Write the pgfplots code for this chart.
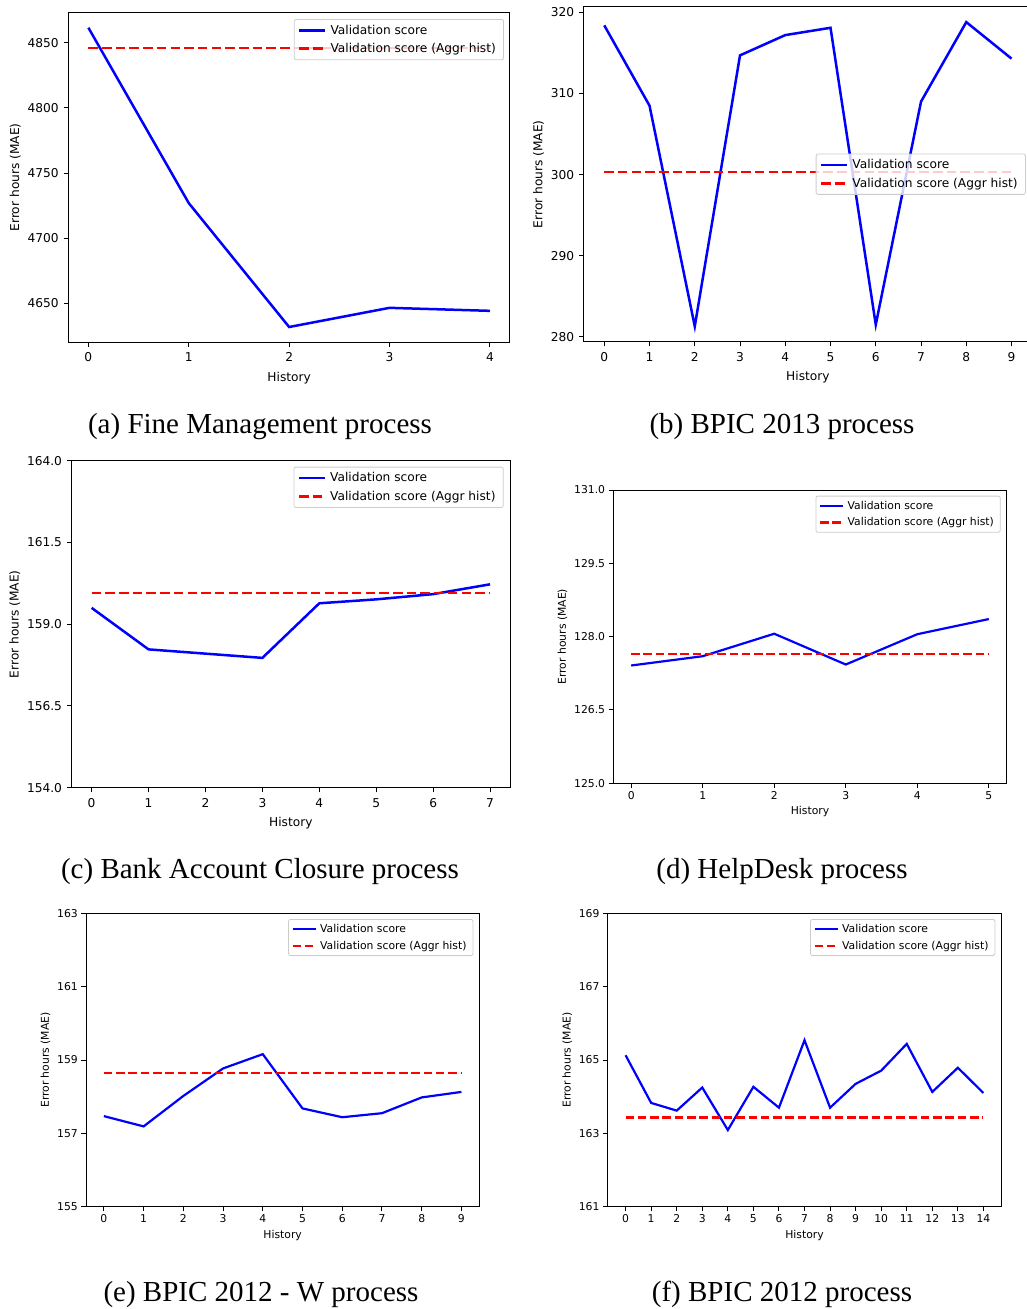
\documentclass[border=0pt]{standalone}
\usepackage{fontspec}
\setmainfont{DejaVu Sans}
\newfontfamily\capfont{Liberation Serif}
\usepackage{pgfplots}
\pgfplotsset{compat=1.18}
\pgfplotsset{
 common/.style={
  scale only axis,
  axis line style={line width=1bp, black},
  every tick/.style={line width=1bp, black},
  tick align=outside,
  tick pos=left,
  major tick length=4.7bp,
  minor tick num=0,
  scaled ticks=false,
  /pgf/number format/assume math mode=true,
  /pgf/number format/1000 sep={},
  xlabel={History},
  ylabel={Error hours (MAE)},
  legend cell align=left,
  legend style={draw=black!20, line width=0.8bp, rounded corners=2bp, fill=white, fill opacity=0.8, text opacity=1, draw opacity=1},
 },
 big/.style={
  tick label style={font=\fontsize{12.2bp}{14bp}\selectfont},
  xticklabel style={yshift=-2.5bp},
  yticklabel style={xshift=-1.5bp},
  label style={font=\fontsize{12.2bp}{14bp}\selectfont},
  xlabel style={yshift=-3bp},
  legend style={font=\fontsize{12.2bp}{14bp}\selectfont, inner xsep=4bp, inner ysep=1.8bp, nodes={inner sep=3.8bp, text depth=0.15em}},
  legend image code/.code={\draw[##1] (0bp,0bp) -- (26bp,0bp);},
 },
 small/.style={
  tick label style={font=\fontsize{10.8bp}{13bp}\selectfont},
  label style={font=\fontsize{10.8bp}{13bp}\selectfont},
  legend style={font=\fontsize{10.8bp}{13bp}\selectfont, inner xsep=3bp, inner ysep=1.6bp, nodes={inner sep=3.4bp, text depth=0.15em}},
  legend image code/.code={\draw[##1] (0bp,0bp) -- (23bp,0bp);},
 },
 bluebig/.style={blue, line width=2.5bp, no markers},
 redbig/.style={red, line width=2.5bp, dash pattern=on 9.5bp off 4.2bp, no markers},
 bluesmall/.style={blue, line width=2.2bp, no markers},
 redsmall/.style={red, line width=2.2bp, dash pattern=on 8.5bp off 3.8bp, no markers},
}
\begin{document}
\begin{tikzpicture}
\useasboundingbox (0bp,0bp) rectangle (1027bp,-1309bp);
% (a)
\begin{axis}[common, big, at={(68.3bp,-342bp)}, anchor=south west,
  width=441.7bp, height=329.3bp,
  xmin=-0.2, xmax=4.2, ymin=4620.5, ymax=4873,
  xtick={0,1,2,3,4}, ytick={4650,4700,4750,4800,4850},
  legend style={at={(1,1)}, anchor=north east, xshift=-6bp, yshift=-6.3bp}]
\addplot[bluebig] coordinates {(0,4861.5) (1,4727) (2,4632) (3,4646.7) (4,4644.4)};
\addlegendentry{Validation score}
\addplot[redbig] coordinates {(0,4845.9) (4,4845.9)};
\addlegendentry{Validation score (Aggr hist)}
\end{axis}
% (b)
\begin{axis}[common, big, at={(583.9bp,-341.7bp)}, anchor=south west,
  width=448bp, height=335bp,
  xmin=-0.45, xmax=9.45, ymin=279.4, ymax=320.7,
  xtick={0,...,9}, ytick={280,290,300,310,320},
  legend style={at={(1,0.5)}, anchor=east, xshift=-6bp}]
\addplot[bluebig] coordinates {(0,318.4) (1,308.5) (2,281.3) (3,314.7) (4,317.2) (5,318.1) (6,281.5) (7,309.0) (8,318.8) (9,314.3)};
\addlegendentry{Validation score}
\addplot[redbig] coordinates {(0,300.3) (9,300.3)};
\addlegendentry{Validation score (Aggr hist)}
\end{axis}
% (c)
\begin{axis}[common, big, at={(71.7bp,-787.7bp)}, anchor=south west,
  width=438.3bp, height=327bp,
  xmin=-0.35, xmax=7.35, ymin=154, ymax=164,
  xtick={0,...,7}, ytick={154,156.5,159,161.5,164},
  yticklabel style={/pgf/number format/.cd, fixed, fixed zerofill, precision=1},
  legend style={at={(1,1)}, anchor=north east, xshift=-6.3bp, yshift=-6bp}]
\addplot[bluebig] coordinates {(0,159.5) (1,158.23) (2,158.1) (3,157.97) (4,159.64) (5,159.76) (6,159.92) (7,160.22)};
\addlegendentry{Validation score}
\addplot[redbig] coordinates {(0,159.96) (7,159.96)};
\addlegendentry{Validation score (Aggr hist)}
\end{axis}
% (d)
\begin{axis}[common, small, at={(613.3bp,-783.3bp)}, anchor=south west,
  width=393.4bp, height=293.3bp,
  xmin=-0.25, xmax=5.25, ymin=125, ymax=131,
  xtick={0,...,5}, ytick={125,126.5,128,129.5,131},
  yticklabel style={/pgf/number format/.cd, fixed, fixed zerofill, precision=1},
  legend style={at={(1,1)}, anchor=north east, xshift=-6bp, yshift=-5.7bp}]
\addplot[bluesmall] coordinates {(0,127.41) (1,127.6) (2,128.06) (3,127.43) (4,128.05) (5,128.36)};
\addlegendentry{Validation score}
\addplot[redsmall] coordinates {(0,127.65) (5,127.65)};
\addlegendentry{Validation score (Aggr hist)}
\end{axis}
% (e)
\begin{axis}[common, small, at={(86bp,-1206.7bp)}, anchor=south west,
  width=393.3bp, height=293.4bp,
  xmin=-0.45, xmax=9.45, ymin=155, ymax=163,
  xtick={0,...,9}, ytick={155,157,159,161,163},
  legend style={at={(1,1)}, anchor=north east, xshift=-6bp, yshift=-5.7bp}]
\addplot[bluesmall] coordinates {(0,157.47) (1,157.19) (2,158.02) (3,158.77) (4,159.16) (5,157.68) (6,157.44) (7,157.55) (8,157.98) (9,158.13)};
\addlegendentry{Validation score}
\addplot[redsmall] coordinates {(0,158.64) (9,158.64)};
\addlegendentry{Validation score (Aggr hist)}
\end{axis}
% (f)
\begin{axis}[common, small, at={(607.7bp,-1206.7bp)}, anchor=south west,
  width=393.6bp, height=293.4bp,
  xmin=-0.7, xmax=14.7, ymin=161, ymax=169,
  xtick={0,...,14}, ytick={161,163,165,167,169},
  legend style={at={(1,1)}, anchor=north east, xshift=-6bp, yshift=-5.7bp}]
\addplot[bluesmall] coordinates {(0,165.13) (1,163.83) (2,163.62) (3,164.25) (4,163.09) (5,164.27) (6,163.7) (7,165.54) (8,163.7) (9,164.35) (10,164.71) (11,165.44) (12,164.13) (13,164.79) (14,164.1)};
\addlegendentry{Validation score}
\addplot[redsmall] coordinates {(0,163.43) (14,163.43)};
\addlegendentry{Validation score (Aggr hist)}
\end{axis}
% captions
\node[anchor=base, font=\capfont\fontsize{29bp}{34bp}\selectfont] at (260bp,-433bp) {(a) Fine Management process};
\node[anchor=base, font=\capfont\fontsize{29bp}{34bp}\selectfont] at (782bp,-433bp) {(b) BPIC 2013 process};
\node[anchor=base, font=\capfont\fontsize{29bp}{34bp}\selectfont] at (260bp,-878bp) {(c) Bank Account Closure process};
\node[anchor=base, font=\capfont\fontsize{29bp}{34bp}\selectfont] at (782bp,-878bp) {(d) HelpDesk process};
\node[anchor=base, font=\capfont\fontsize{29bp}{34bp}\selectfont] at (261bp,-1301.5bp) {(e) BPIC 2012 - W process};
\node[anchor=base, font=\capfont\fontsize{29bp}{34bp}\selectfont] at (782bp,-1301.5bp) {(f) BPIC 2012 process};
\end{tikzpicture}
\end{document}
